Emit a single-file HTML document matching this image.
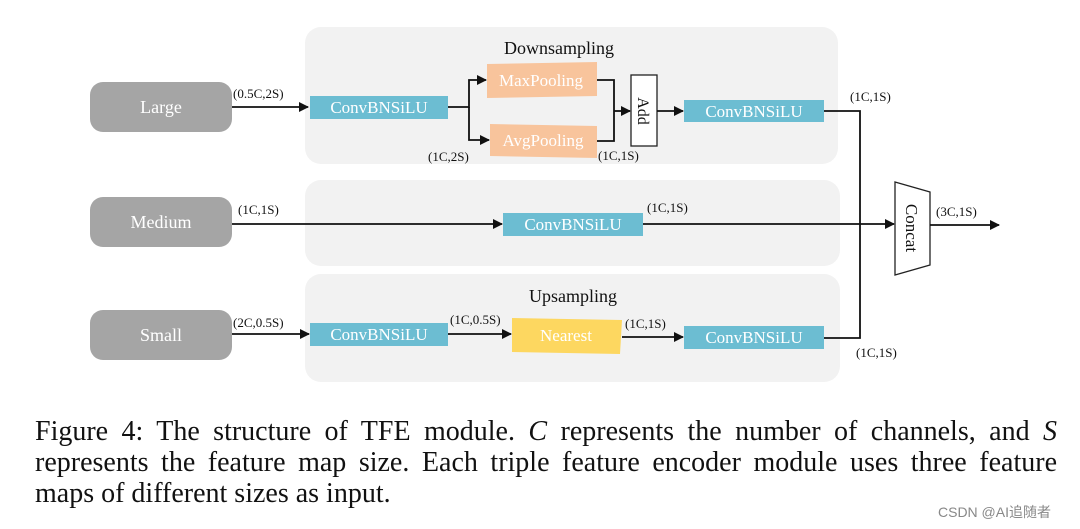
<!DOCTYPE html>
<html><head><meta charset="utf-8"><style>
body{margin:0;width:1080px;height:529px;background:#fff;overflow:hidden;position:relative;font-family:"Liberation Serif",serif}
.cap{position:absolute;left:35px;width:1022px;font-size:28px;line-height:31px;text-align:justify;text-align-last:justify;color:#111;white-space:nowrap}
</style></head><body>
<svg width="1080" height="400" style="position:absolute;left:0;top:0" font-family="Liberation Serif, serif">
<defs><marker id="a" markerWidth="10" markerHeight="10" refX="9" refY="5" orient="auto" markerUnits="userSpaceOnUse"><path d="M0,0L10,5L0,10z" fill="#111"/></marker></defs>
<rect x="305" y="27" width="533" height="137" rx="16" fill="#f2f2f2"/>
<rect x="305" y="180" width="535" height="86" rx="16" fill="#f2f2f2"/>
<rect x="305" y="274" width="535" height="108" rx="16" fill="#f2f2f2"/>
<g fill="#a5a5a5"><rect x="90" y="82" width="142" height="50" rx="13"/><rect x="90" y="197" width="142" height="50" rx="13"/><rect x="90" y="310" width="142" height="50" rx="13"/></g>
<g fill="#fff" font-size="18" text-anchor="middle"><text x="161" y="113">Large</text><text x="161" y="228">Medium</text><text x="161" y="341">Small</text></g>
<text x="559" y="54" font-size="18" text-anchor="middle" fill="#111">Downsampling</text>
<text x="573" y="302" font-size="18" text-anchor="middle" fill="#111">Upsampling</text>
<g fill="#6cbdd2"><rect x="310" y="96" width="138" height="23"/><rect x="684" y="100" width="140" height="22"/><rect x="503" y="213" width="140" height="23"/><rect x="310" y="323" width="138" height="23"/><rect x="684" y="326" width="140" height="23"/></g>
<polygon points="487,64 597,62 597,96 487,98" fill="#f8c49c"/>
<polygon points="490,124 597,126 597,158 490,156" fill="#f8c49c"/>
<polygon points="512,318 622,320 620,354 512,352" fill="#fdd760"/>
<g fill="#fff" font-size="17" text-anchor="middle"><text x="379" y="113">ConvBNSiLU</text><text x="754" y="117">ConvBNSiLU</text><text x="573" y="230">ConvBNSiLU</text><text x="379" y="340">ConvBNSiLU</text><text x="754" y="343">ConvBNSiLU</text><text x="541" y="86">MaxPooling</text><text x="543" y="146">AvgPooling</text><text x="566" y="341">Nearest</text></g>
<rect x="631" y="75" width="26" height="71" fill="#fff" stroke="#222" stroke-width="1.3"/>
<text transform="translate(638,111) rotate(90)" font-size="16" text-anchor="middle" fill="#111">Add</text>
<polygon points="895,182 930,192 930,265 895,275" fill="#fff" stroke="#222" stroke-width="1.3"/>
<text transform="translate(906,228) rotate(90)" font-size="17" text-anchor="middle" fill="#111">Concat</text>
<g stroke="#111" stroke-width="1.8" fill="none">
<path d="M232,107H308" marker-end="url(#a)"/>
<path d="M448,107H469V80H486" marker-end="url(#a)"/>
<path d="M469,107V140H489" marker-end="url(#a)"/>
<path d="M597,80H614V141H597"/>
<path d="M614,111H630" marker-end="url(#a)"/>
<path d="M657,111H683" marker-end="url(#a)"/>
<path d="M824,111H860V338H824"/>
<path d="M232,224H502" marker-end="url(#a)"/>
<path d="M643,224H894" marker-end="url(#a)"/>
<path d="M930,225H999" marker-end="url(#a)"/>
<path d="M232,334H309" marker-end="url(#a)"/>
<path d="M448,334H511" marker-end="url(#a)"/>
<path d="M622,337H683" marker-end="url(#a)"/>
</g>
<g font-size="13" fill="#111"><text x="233" y="98">(0.5C,2S)</text><text x="428" y="161">(1C,2S)</text><text x="598" y="160">(1C,1S)</text><text x="850" y="101">(1C,1S)</text><text x="238" y="214">(1C,1S)</text><text x="647" y="212">(1C,1S)</text><text x="936" y="216">(3C,1S)</text><text x="233" y="327">(2C,0.5S)</text><text x="450" y="324">(1C,0.5S)</text><text x="625" y="328">(1C,1S)</text><text x="856" y="357">(1C,1S)</text></g>
</svg>
<div class="cap" style="top:416px">Figure 4: The structure of TFE module. <i>C</i> represents the number of channels, and <i>S</i></div>
<div class="cap" style="top:447px">represents the feature map size. Each triple feature encoder module uses three feature</div>
<div class="cap" style="top:478px;text-align-last:left">maps of different sizes as input.</div>
<div style="position:absolute;left:938px;top:502px;font-family:'Liberation Sans','Noto Sans CJK SC',sans-serif;font-size:14px;color:#888">CSDN @AI追随者</div>
</body></html>
